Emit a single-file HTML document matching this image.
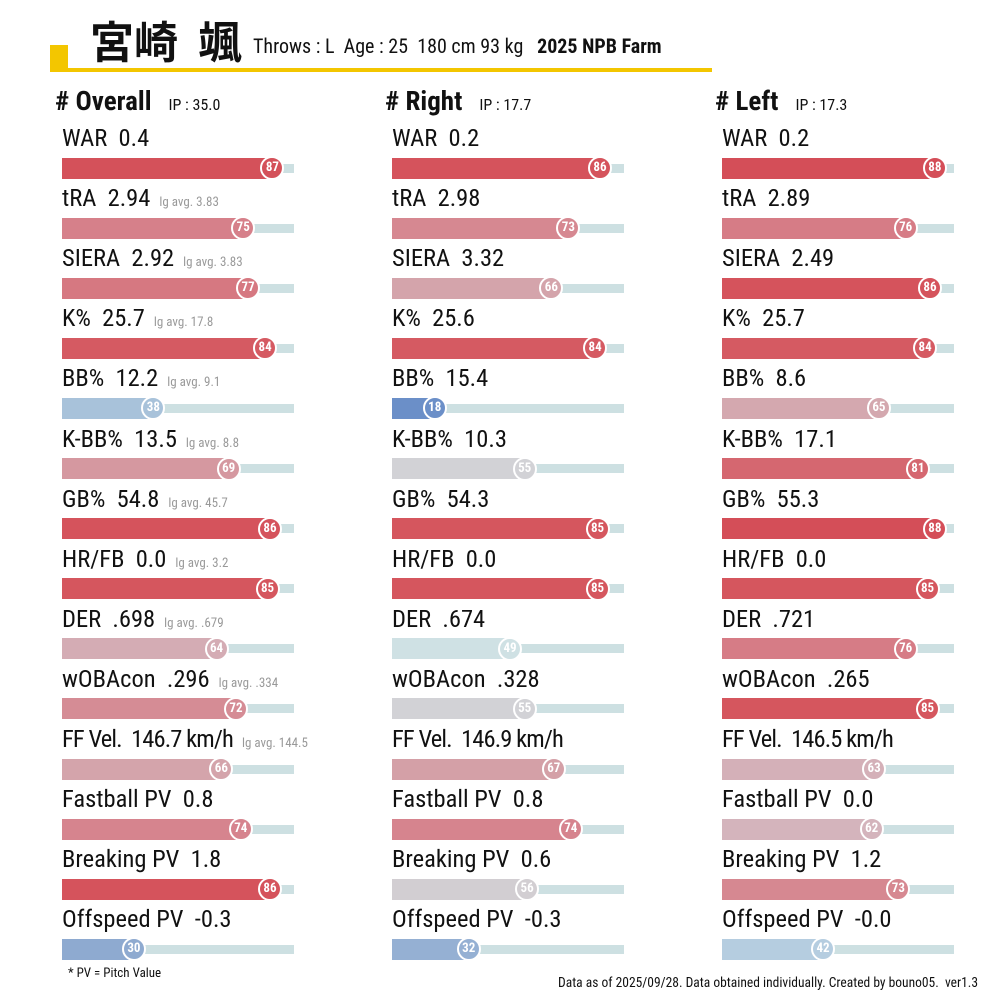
<!DOCTYPE html>
<html><head><meta charset="utf-8"><style>
body{margin:0;width:1000px;height:1000px;background:#fff;position:relative;overflow:hidden;font-family:"Roboto Condensed","Liberation Sans Narrow","Liberation Sans","Noto Sans CJK JP",sans-serif;color:#111}
.a{position:absolute;white-space:nowrap}
.lab{font-size:24.5px;line-height:24px}
.lg{font-size:13px;color:#999;margin-left:9px;letter-spacing:0}
.trk{position:absolute;height:9px;background:#cde0e2}
.bar{position:absolute;height:21px}
.cir{position:absolute;width:20px;height:20px;border-radius:50%;border:2px solid #fff;color:#fff;font-size:13px;font-weight:bold;text-align:center;line-height:20px}
</style></head><body>
<div class="a" style="left:50px;top:45px;width:18px;height:27px;background:#f3c600"></div>
<div class="a" style="left:50px;top:68px;width:662px;height:4px;background:#f3c600"></div>
<div class="a" style="left:90px;top:12px;font-size:44px;font-weight:bold;font-family:'Noto Sans CJK JP',sans-serif;line-height:54px">宮崎&nbsp;&nbsp;颯</div>
<div class="a" style="left:253px;top:34px;font-size:20px">Throws : L&nbsp; Age : 25&nbsp; 180 cm 93 kg&nbsp;&nbsp; <b>2025 NPB Farm</b></div>
<div class="a" style="left:68px;top:966px;font-size:13px">* PV = Pitch Value</div>
<div class="a" style="right:22px;top:975px;font-size:13.5px">Data as of 2025/09/28. Data obtained individually. Created by bouno05.&nbsp; ver1.3</div>
<div id="c"></div>
<script>
const stops=[[0,[62,106,184]],[18,[107,143,200]],[30,[142,170,208]],[38,[168,194,218]],[42,[181,205,224]],[49,[207,225,228]],[55,[210,210,214]],[62,[212,180,188]],[66,[212,164,171]],[75,[214,128,138]],[85,[213,86,94]],[88,[212,78,88]],[100,[208,48,64]]];
function col(p){for(let i=1;i<stops.length;i++){if(p<=stops[i][0]){const[a,ca]=stops[i-1],[b,cb]=stops[i];const t=(p-a)/(b-a);return 'rgb('+ca.map((v,k)=>Math.round(v+(cb[k]-v)*t)).join(',')+')';}}return 'rgb(208,48,64)';}
const names=["WAR","tRA","SIERA","K%","BB%","K-BB%","GB%","HR/FB","DER","wOBAcon","FF Vel.","Fastball PV","Breaking PV","Offspeed PV"];
const lg=[null,"3.83","3.83","17.8","9.1","8.8","45.7","3.2",".679",".334","144.5",null,null,null];
const cols=[
{x:55,h:"# Overall",ip:"IP : 35.0",lg:true,v:["0.4","2.94","2.92","25.7","12.2","13.5","54.8","0.0",".698",".296","146.7 km/h","0.8","1.8","-0.3"],p:[87,75,77,84,38,69,86,85,64,72,66,74,86,30]},
{x:385,h:"# Right",ip:"IP : 17.7",v:["0.2","2.98","3.32","25.6","15.4","10.3","54.3","0.0",".674",".328","146.9 km/h","0.8","0.6","-0.3"],p:[86,73,66,84,18,55,85,85,49,55,67,74,56,32]},
{x:715,h:"# Left",ip:"IP : 17.3",v:["0.2","2.89","2.49","25.7","8.6","17.1","55.3","0.0",".721",".265","146.5 km/h","0.0","1.2","-0.0"],p:[88,76,86,84,65,81,88,85,76,85,63,62,73,42]}];
let h='';
cols.forEach(c=>{
h+=`<div class="a" style="left:${c.x}px;top:85px;font-size:27px;font-weight:bold">${c.h}<span style="font-size:16px;font-weight:normal;margin-left:17px">${c.ip}</span></div>`;
const bx=c.x+7;
names.forEach((n,i)=>{
const ty=126+i*60.1, by=157.5+i*60.1;
const ls=i==10?'letter-spacing:-0.9px;':'';
h+=`<div class="a lab" style="left:${bx}px;top:${ty}px;${ls}">${n}&nbsp; ${c.v[i]}${c.lg&&lg[i]?`<span class="lg">lg avg. ${lg[i]}</span>`:''}</div>`;
const p=c.p[i], cx=bx-1+2.43*p, cl=col(p);
h+=`<div class="trk" style="left:${bx}px;width:232px;top:${by+6}px"></div>`;
h+=`<div class="bar" style="left:${bx}px;width:${cx-bx}px;top:${by}px;background:${cl}"></div>`;
h+=`<div class="cir" style="left:${cx-12}px;top:${by-1.5}px;background:${cl}">${p}</div>`;
});});
document.getElementById('c').innerHTML=h;
</script>
</body></html>
